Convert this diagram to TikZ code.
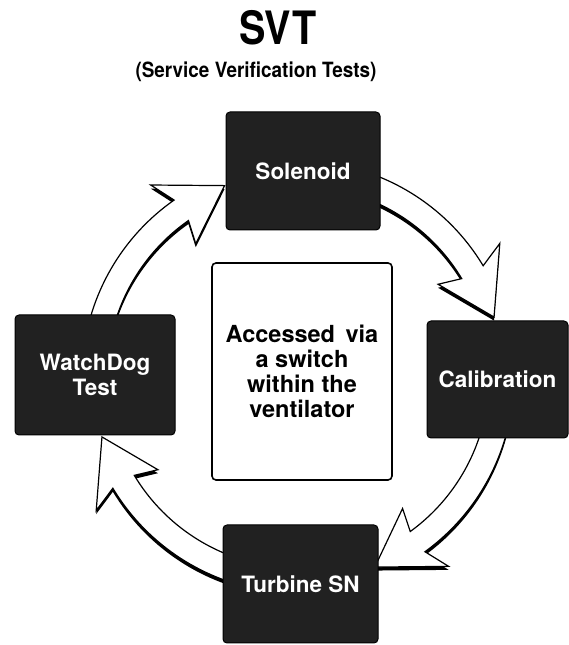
\documentclass[tikz,border=0pt]{standalone}
\usepackage{fontspec}
\newfontfamily\hv{TeX Gyre Heros}
\newcommand\svtarrow[2]{%
  ({#1}:216pt) arc[start angle={#1}, end angle={#2+14}, radius=216pt]
  -- ({#2+16.5}:242pt) -- ({#2}:205pt) -- ({#2+16.5}:168pt) -- ({#2+14}:191pt)
  arc[start angle={#2+14}, end angle={#1}, radius=191pt] -- cycle}
\begin{document}
\begin{tikzpicture}[x=1pt,y=1pt,
  darkbox/.style={draw=black, line width=1pt, fill=black!87, rounded corners=4pt,
    inner sep=0pt, text=white, align=center,
    font=\hv\bfseries\fontsize{22.5}{25}\selectfont},
  lightbox/.style={draw=black, line width=1.6pt, fill=white, rounded corners=4pt,
    inner sep=0pt, align=center, font=\hv\bfseries\fontsize{23.5}{25}\selectfont},
  arrowshadow/.style={fill=black, yshift=-3.5pt},
  arrowbody/.style={fill=white, draw=black, line width=1.2pt, line join=miter}]
\useasboundingbox (0,0) rectangle (569,645);
\coordinate (C) at (298,268);
% title
\node[font=\hv\bfseries\fontsize{46}{46}\selectfont, inner sep=0pt] (title) at (278,617) {\scalebox{0.86}[1]{SVT}};
\node[font=\hv\bfseries\fontsize{21}{24}\selectfont, inner sep=0pt] (subtitle) at (256,573) {\scalebox{0.9}[1]{(Service Verification Tests)}};
% cycle arrows
\begin{scope}[shift={(C)}]
  \foreach \s/\t in {165/111, 75/17, -10/-68, -100/-163} {
    \fill[arrowshadow] \svtarrow{\s}{\t};
    \filldraw[arrowbody] \svtarrow{\s}{\t};
  }
\end{scope}
% boxes
\node[darkbox, minimum width=154pt, minimum height=118pt] (sol) at (303,474) {Solenoid};
\node[darkbox, minimum width=141pt, minimum height=117pt] (cal) at (497.5,265.5) {Calibration};
\node[darkbox, minimum width=160pt, minimum height=120pt] (wd) at (95,270) {WatchDog\\Test};
\node[darkbox, minimum width=155pt, minimum height=118pt] (tsn) at (300.5,61) {Turbine SN};
\node[lightbox, minimum width=180pt, minimum height=217pt] (mid) at (302,273.5) {Accessed\hspace{0.45em}via\\a switch\\within the\\ventilator};
\end{tikzpicture}
\end{document}
